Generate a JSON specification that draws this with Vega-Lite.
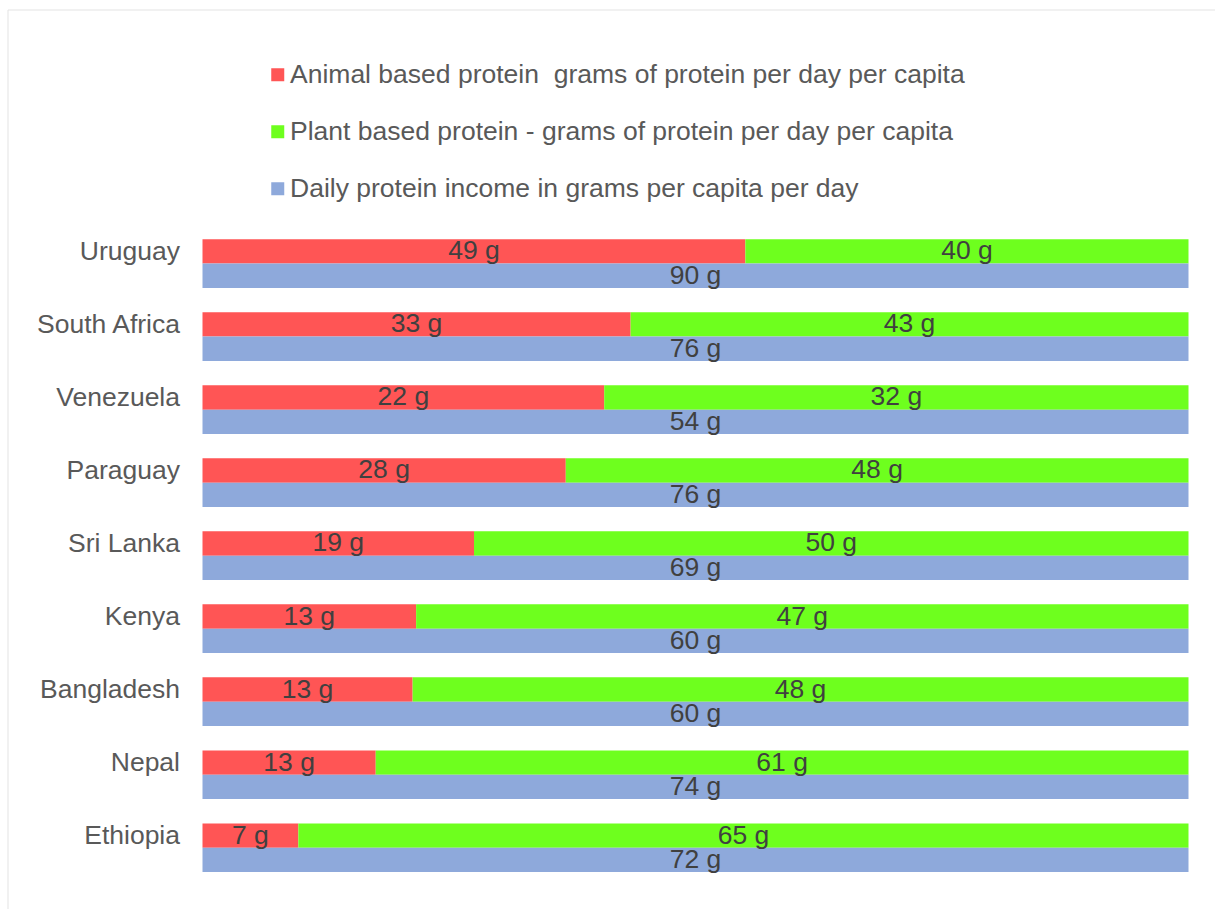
{
  "$schema": "https://vega.github.io/schema/vega-lite/v6.json",
  "width": 1207.5,
  "height": 899.5,
  "padding": {"left": 7.5, "top": 9.5, "right": 0, "bottom": 0},
  "background": "white",
  "config": {
    "font": "Liberation Sans",
    "view": {"stroke": "#e3e3e3", "strokeWidth": 1}
  },
  "data": {
    "values": [
      {"country": "Uruguay", "row": "parts", "series": "Animal based protein\u00a0 grams of protein per day per capita", "grams": 49},
      {"country": "Uruguay", "row": "parts", "series": "Plant based protein - grams of protein per day per capita", "grams": 40},
      {"country": "Uruguay", "row": "total", "series": "Daily protein income in grams per capita per day", "grams": 90},
      {"country": "South Africa", "row": "parts", "series": "Animal based protein\u00a0 grams of protein per day per capita", "grams": 33},
      {"country": "South Africa", "row": "parts", "series": "Plant based protein - grams of protein per day per capita", "grams": 43},
      {"country": "South Africa", "row": "total", "series": "Daily protein income in grams per capita per day", "grams": 76},
      {"country": "Venezuela", "row": "parts", "series": "Animal based protein\u00a0 grams of protein per day per capita", "grams": 22},
      {"country": "Venezuela", "row": "parts", "series": "Plant based protein - grams of protein per day per capita", "grams": 32},
      {"country": "Venezuela", "row": "total", "series": "Daily protein income in grams per capita per day", "grams": 54},
      {"country": "Paraguay", "row": "parts", "series": "Animal based protein\u00a0 grams of protein per day per capita", "grams": 28},
      {"country": "Paraguay", "row": "parts", "series": "Plant based protein - grams of protein per day per capita", "grams": 48},
      {"country": "Paraguay", "row": "total", "series": "Daily protein income in grams per capita per day", "grams": 76},
      {"country": "Sri Lanka", "row": "parts", "series": "Animal based protein\u00a0 grams of protein per day per capita", "grams": 19},
      {"country": "Sri Lanka", "row": "parts", "series": "Plant based protein - grams of protein per day per capita", "grams": 50},
      {"country": "Sri Lanka", "row": "total", "series": "Daily protein income in grams per capita per day", "grams": 69},
      {"country": "Kenya", "row": "parts", "series": "Animal based protein\u00a0 grams of protein per day per capita", "grams": 13},
      {"country": "Kenya", "row": "parts", "series": "Plant based protein - grams of protein per day per capita", "grams": 47},
      {"country": "Kenya", "row": "total", "series": "Daily protein income in grams per capita per day", "grams": 60},
      {"country": "Bangladesh", "row": "parts", "series": "Animal based protein\u00a0 grams of protein per day per capita", "grams": 13},
      {"country": "Bangladesh", "row": "parts", "series": "Plant based protein - grams of protein per day per capita", "grams": 48},
      {"country": "Bangladesh", "row": "total", "series": "Daily protein income in grams per capita per day", "grams": 60},
      {"country": "Nepal", "row": "parts", "series": "Animal based protein\u00a0 grams of protein per day per capita", "grams": 13},
      {"country": "Nepal", "row": "parts", "series": "Plant based protein - grams of protein per day per capita", "grams": 61},
      {"country": "Nepal", "row": "total", "series": "Daily protein income in grams per capita per day", "grams": 74},
      {"country": "Ethiopia", "row": "parts", "series": "Animal based protein\u00a0 grams of protein per day per capita", "grams": 7},
      {"country": "Ethiopia", "row": "parts", "series": "Plant based protein - grams of protein per day per capita", "grams": 65},
      {"country": "Ethiopia", "row": "total", "series": "Daily protein income in grams per capita per day", "grams": 72}
    ]
  },
  "transform": [
    {"calculate": "datum.grams + ' g'", "as": "label"}
  ],
  "encoding": {
    "y": {
      "field": "country",
      "type": "nominal",
      "sort": null,
      "scale": {"range": [229.8, 862.5], "paddingInner": 0.3342, "paddingOuter": 0},
      "axis": {
        "title": null,
        "orient": "left",
        "offset": -195,
        "domain": false,
        "ticks": false,
        "tickSize": 0,
        "grid": false,
        "labelPadding": 23,
        "labelFontSize": 26.5,
        "labelColor": "#595959",
        "labelOffset": -12,
        "labelLimit": 400
      }
    },
    "yOffset": {
      "field": "row",
      "type": "nominal",
      "scale": {"domain": ["parts", "total"], "paddingInner": 0, "paddingOuter": 0}
    },
    "order": {"field": "series", "sort": "ascending"}
  },
  "layer": [
    {
      "mark": {"type": "bar"},
      "encoding": {
        "x": {
          "field": "grams",
          "type": "quantitative",
          "stack": "normalize",
          "scale": {"domain": [-0.197769, 1.026876], "nice": false, "zero": false},
          "axis": null
        },
        "color": {
          "field": "series",
          "type": "nominal",
          "scale": {
            "domain": [
              "Animal based protein\u00a0 grams of protein per day per capita",
              "Plant based protein - grams of protein per day per capita",
              "Daily protein income in grams per capita per day"
            ],
            "range": ["#FF5555", "#6EFF1E", "#8EA9DB"]
          },
          "legend": {
            "title": null,
            "orient": "none",
            "legendX": 257,
            "legendY": 52,
            "direction": "vertical",
            "padding": 0,
            "labelFontSize": 26.5,
            "labelColor": "#595959",
            "labelLimit": 1000,
            "labelOffset": -1,
            "symbolType": "square",
            "symbolSize": 169,
            "symbolStrokeWidth": 0,
            "symbolOpacity": 1,
            "rowPadding": 30
          }
        }
      }
    },
    {
      "mark": {"type": "text", "align": "center", "baseline": "middle", "fontSize": 26.5, "color": "#404040"},
      "encoding": {
        "x": {
          "field": "grams",
          "type": "quantitative",
          "stack": "normalize",
          "bandPosition": 0.5,
          "scale": {"domain": [-0.197769, 1.026876], "nice": false, "zero": false},
          "axis": null
        },
        "detail": {"field": "series"},
        "text": {"field": "label"}
      }
    }
  ]
}
